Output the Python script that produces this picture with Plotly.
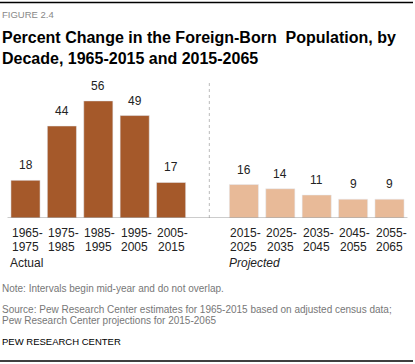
import plotly.graph_objects as go

actual_labels = ["1965-1975", "1975-1985", "1985-1995", "1995-2005", "2005-2015"]
actual_values = [18, 44, 56, 49, 17]
proj_labels = ["2015-2025", "2025-2035", "2035-2045", "2045-2055", "2055-2065"]
proj_values = [16, 14, 11, 9, 9]

actual_x = list(range(0, 5))
proj_x = list(range(6, 11))
divider_x = 5

W, H = 415, 364
DARK = "#A5592A"
LIGHT = "#E8BA98"
BODY = "Liberation Sans, Arial, sans-serif"

def py(px):
    return 1 - px / H

fig = go.Figure()
fig.add_trace(go.Bar(x=actual_x, y=actual_values, marker_color=DARK, width=0.8,
                     hoverinfo="skip", showlegend=False))
fig.add_trace(go.Bar(x=proj_x, y=proj_values, marker_color=LIGHT, width=0.8,
                     hoverinfo="skip", showlegend=False))

ann = []
for x, v in list(zip(actual_x, actual_values)) + list(zip(proj_x, proj_values)):
    ann.append(dict(x=x, y=v, xref="x", yref="y", text=str(v), showarrow=False,
                    yanchor="bottom", yshift=6, font=dict(family=BODY, size=12, color="#222")))
for x, t in list(zip(actual_x, actual_labels)) + list(zip(proj_x, proj_labels)):
    start, end = t.split("-")
    ann.append(dict(x=x, y=py(233), xref="x", yref="paper", text=start + "-", showarrow=False,
                    yanchor="middle", xshift=1.5, font=dict(family=BODY, size=12, color="#222")))
    ann.append(dict(x=x, y=py(247), xref="x", yref="paper", text=end, showarrow=False,
                    yanchor="middle", font=dict(family=BODY, size=12, color="#222")))

ann.append(dict(x=-0.5, y=py(263), xref="x", yref="paper", text="Actual", showarrow=False,
                xanchor="left", yanchor="middle", xshift=1, font=dict(family=BODY, size=12, color="#222")))
ann.append(dict(x=5.5, y=py(263), xref="x", yref="paper", text="<i>Projected</i>", showarrow=False,
                xanchor="left", yanchor="middle", xshift=1, font=dict(family=BODY, size=12, color="#222")))

def left_text(text, ycenter, size, color, bold=False):
    if bold:
        text = "<b>" + text + "</b>"
    return dict(x=0, y=py(ycenter), xref="paper", yref="paper", text=text, showarrow=False,
                xanchor="left", yanchor="middle", align="left", xshift=0,
                font=dict(family=BODY, size=size, color=color))

ann.append(left_text("FIGURE 2.4", 15, 9.5, "#888"))
ann.append(left_text("Percent Change in the Foreign-Born  Population, by", 38, 16, "#000", bold=True))
ann.append(left_text("Decade, 1965-2015 and 2015-2065", 58.5, 16, "#000", bold=True))
ann.append(left_text("Note: Intervals begin mid-year and do not overlap.", 288.5, 10, "#777"))
ann.append(left_text("Source: Pew Research Center estimates for 1965-2015 based on adjusted census data;", 309, 10, "#777"))
ann.append(left_text("Pew Research Center projections for 2015-2065", 320.5, 10, "#777"))
ann.append(left_text("PEW RESEARCH CENTER", 341, 9.5, "#000"))

shapes = [
    dict(type="line", xref="paper", yref="paper", x0=0, x1=413 / W, y0=py(2.5), y1=py(2.5),
         line=dict(color="#000", width=1.5)),
    dict(type="line", xref="paper", yref="paper", x0=0, x1=413 / W, y0=py(361), y1=py(361),
         line=dict(color="#000", width=1.5)),
    dict(type="line", xref="x", yref="y", x0=divider_x + 0.05, x1=divider_x + 0.05, y0=0, y1=66,
         line=dict(color="#bbb", width=1, dash="dot")),
    dict(type="line", xref="x", yref="y", x0=-0.5, x1=10.5, y0=0, y1=0,
         line=dict(color="#999", width=1)),
]

fig.update_layout(
    width=W, height=H, margin=dict(l=0, r=0, t=0, b=0),
    paper_bgcolor="white", plot_bgcolor="white",
    xaxis=dict(domain=[7.3 / W, 407.7 / W], range=[-0.5, 10.5], showticklabels=False,
               showgrid=False, zeroline=False, showline=False, ticks=""),
    yaxis=dict(domain=[py(218), py(80)], range=[0, 66], showticklabels=False,
               showgrid=False, zeroline=False, showline=False),
    bargap=0.2,
    annotations=ann, shapes=shapes,
)

fig.write_html("out.html", config={"displayModeBar": False},
               post_script="document.body.style.margin='0';document.body.style.padding='0';")
